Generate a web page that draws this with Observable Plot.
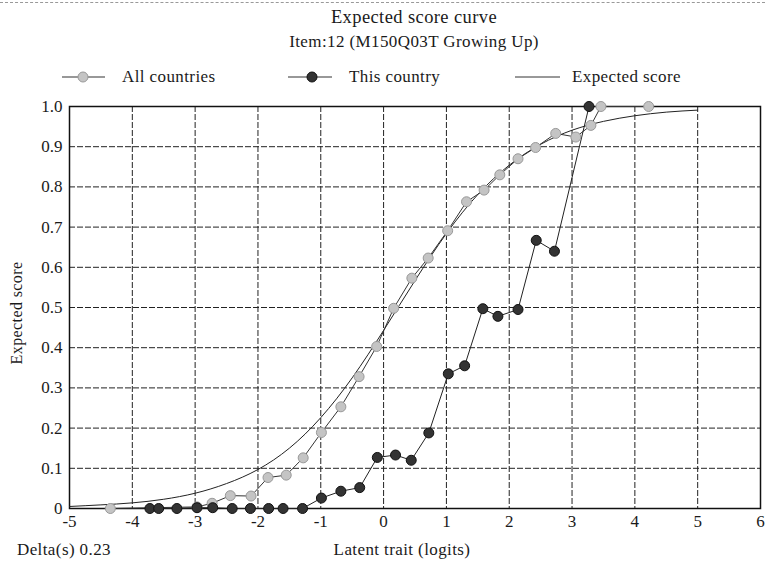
<!DOCTYPE html>
<html>
<head>
<meta charset="utf-8">
<script src="https://cdn.jsdelivr.net/npm/d3@7"></script>
<script src="https://cdn.jsdelivr.net/npm/@observablehq/plot@0.6"></script>
<style>
  html, body { margin: 0; padding: 0; background: #fff; }
  #wrap { position: relative; width: 765px; height: 562px; overflow: hidden;
          font-family: "Liberation Serif", serif; color: #1a1a1a; }
  #topline { position: absolute; left: 0; top: 2px; width: 765px; border-top: 1px dashed #999; }
  .t { position: absolute; white-space: nowrap; letter-spacing: 0.4px; }
  #title { left: 0; width: 828px; text-align: center; top: 7px; font-size: 18.5px; }
  #subtitle { left: 0; width: 828px; text-align: center; top: 32px; font-size: 17px; }
  .leg { position: absolute; top: 66px; height: 22px; display: flex; align-items: center; font-size: 17px; letter-spacing: 0.4px; white-space: nowrap; }
  .leg svg { margin-right: 17px; }
  #chart { position: absolute; left: 0; top: 95px; }
  #chart svg, #chart svg text { font-family: "Liberation Serif", serif !important; font-size: 17px; }
  #xlabel { left: 0; width: 804px; text-align: center; top: 540px; font-size: 17px; }
  #delta { left: 17px; top: 540px; font-size: 17px; }
  #ylabel { left: 17px; top: 313px; font-size: 16px; transform: translate(-50%, -50%) rotate(-90deg); }
</style>
</head>
<body>
<div id="wrap">
  <div id="topline"></div>
  <div class="t" id="title">Expected score curve</div>
  <div class="t" id="subtitle">Item:12 (M150Q03T Growing Up)</div>
  <div class="leg" style="left:62px">
    <svg width="43" height="12"><line x1="0" y1="6" x2="43" y2="6" stroke="#333" stroke-width="1.2"/><circle cx="21" cy="6" r="5" fill="#c4c4c4" stroke="#999"/></svg>All countries
  </div>
  <div class="leg" style="left:288px">
    <svg width="44" height="12"><line x1="0" y1="6" x2="44" y2="6" stroke="#333" stroke-width="1.2"/><circle cx="24" cy="6" r="5" fill="#333" stroke="#111"/></svg>This country
  </div>
  <div class="leg" style="left:515px">
    <svg width="45" height="12" style="margin-right:12px"><line x1="0" y1="6" x2="45" y2="6" stroke="#333" stroke-width="1"/></svg>Expected score
  </div>
  <div id="chart"></div>
  <div class="t" id="ylabel">Expected score</div>
  <div class="t" id="delta">Delta(s) 0.23</div>
  <div class="t" id="xlabel">Latent trait (logits)</div>
</div>
<script>
// ---- data ----
const xTicks = [-5, -4, -3, -2, -1, 0, 1, 2, 3, 4, 5, 6];
const yTicks = [0, 0.1, 0.2, 0.3, 0.4, 0.5, 0.6, 0.7, 0.8, 0.9, 1.0];

const allX = [-4.35, -2.97, -2.73, -2.44, -2.11, -1.84, -1.55, -1.28, -0.99, -0.68, -0.39, -0.11, 0.16, 0.45, 0.71, 1.02, 1.32, 1.60, 1.85, 2.14, 2.42, 2.74, 3.06, 3.30, 3.46, 4.22];
const allY = [0, 0.004, 0.013, 0.032, 0.031, 0.077, 0.083, 0.126, 0.189, 0.253, 0.328, 0.403, 0.498, 0.573, 0.623, 0.691, 0.763, 0.792, 0.83, 0.87, 0.898, 0.933, 0.924, 0.953, 1.0, 1.0];

const thisX = [-3.72, -3.58, -3.29, -2.97, -2.72, -2.41, -2.12, -1.83, -1.60, -1.29, -0.99, -0.68, -0.38, -0.10, 0.19, 0.44, 0.72, 1.03, 1.29, 1.58, 1.82, 2.14, 2.43, 2.72, 3.27];
const thisY = [0, 0, 0, 0.002, 0.002, 0, 0, 0, 0, 0, 0.026, 0.043, 0.052, 0.127, 0.133, 0.12, 0.188, 0.335, 0.355, 0.497, 0.478, 0.495, 0.667, 0.64, 1.0];

const expX = [-5, -4.5, -4, -3.5, -3, -2.5, -2, -1.5, -1, -0.5, 0, 0.5, 1, 1.5, 2, 2.5, 3, 3.5, 4, 4.5, 5];
const expY = [0.005, 0.009, 0.014, 0.023, 0.038, 0.062, 0.097, 0.15, 0.226, 0.325, 0.443, 0.567, 0.684, 0.781, 0.854, 0.906, 0.941, 0.963, 0.977, 0.986, 0.991];

// ---- tables ----
const allData = allX.map((x, i) => ({x, y: allY[i]}));
const thisData = thisX.map((x, i) => ({x, y: thisY[i]}));
const expData = expX.map((x, i) => ({x, y: expY[i]}));

const chart = Plot.plot({
  width: 765,
  height: 467,
  marginTop: 11,
  marginBottom: 54,
  marginLeft: 69,
  marginRight: 5,
  style: {fontFamily: "'Liberation Serif', serif", fontSize: "17px", color: "#1a1a1a", background: "transparent"},
  x: {domain: [-5, 6]},
  y: {domain: [0, 1]},
  marks: [
    Plot.gridX({ticks: xTicks.slice(1, -1), stroke: "#222", strokeOpacity: 1, strokeWidth: 1, strokeDasharray: "6,2"}),
    Plot.gridY({ticks: yTicks.slice(1, -1), stroke: "#222", strokeOpacity: 1, strokeWidth: 1, strokeDasharray: "6,2"}),
    Plot.frame({stroke: "#111", strokeWidth: 1.5}),
    Plot.line(expData, {x: "x", y: "y", curve: "natural", stroke: "#222", strokeWidth: 1}),
    Plot.line(allData, {x: "x", y: "y", stroke: "#333", strokeWidth: 1}),
    Plot.line(thisData, {x: "x", y: "y", stroke: "#222", strokeWidth: 1}),
    Plot.dot(allData, {x: "x", y: "y", r: 5, fill: "#c4c4c4", stroke: "#999", strokeWidth: 1}),
    Plot.dot(thisData, {x: "x", y: "y", r: 5, fill: "#333", stroke: "#111", strokeWidth: 1}),
    Plot.axisX({ticks: xTicks, tickSize: 0, tickPadding: 6, tickFormat: d => String(d), label: null}),
    Plot.axisY({ticks: yTicks, tickSize: 0, tickPadding: 7, tickFormat: d => d === 0 ? "0" : d.toFixed(1), label: null})
  ]
});
document.getElementById("chart").appendChild(chart);
</script>
</body>
</html>
